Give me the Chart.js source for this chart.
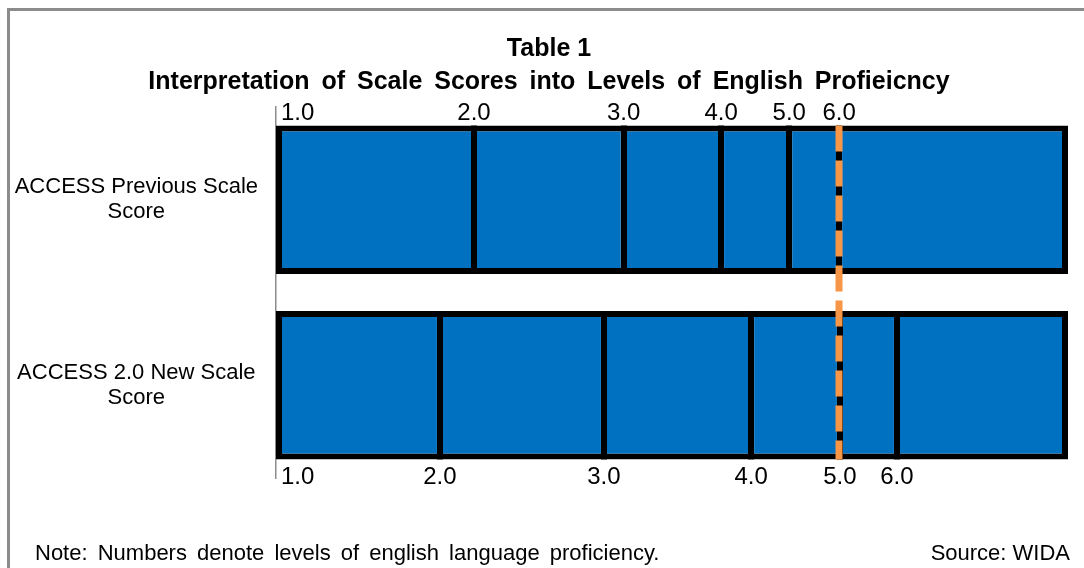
<!DOCTYPE html>
<html lang="en">
<head>
<meta charset="UTF-8">
<title>Table 1 - Interpretation of Scale Scores</title>
<script src="https://cdn.jsdelivr.net/npm/chart.js"></script>
<style>
  html, body { margin: 0; padding: 0; background: #fff; }
  #wrap { position: relative; width: 1084px; height: 568px; overflow: hidden; }
  #frame { position: absolute; left: 7px; top: 8px; right: -10px; bottom: -10px;
           border-left: 3px solid #8c8c8c; border-top: 3px solid #8c8c8c; pointer-events: none; }
  #title { position: absolute; left: 0; width: 1098px; top: 31px; text-align: center;
           font-family: 'Liberation Sans', Arial, sans-serif; font-weight: bold; font-size: 25px;
           line-height: 33px; color: #000; white-space: nowrap; }
  #title span { word-spacing: 5px; }
  .foot { position: absolute; top: 540px; font-family: 'Liberation Sans', Arial, sans-serif;
          font-size: 22px; color: #000; white-space: nowrap; }
</style>
</head>
<body>
<div id="wrap">
  <canvas id="scaleChart" width="1084" height="568"></canvas>
  <div id="frame"></div>
  <div id="title">Table 1<br><span>Interpretation of Scale Scores into Levels of English Profieicncy</span></div>
  <div class="foot" style="left:35px; word-spacing:4px">Note: Numbers denote levels of english language proficiency.</div>
  <div class="foot" style="right:14px">Source: WIDA</div>
</div>

<script>
  // two scales, each bar split into proficiency level bands
  const categories = [['ACCESS Previous Scale', 'Score'], ['ACCESS 2.0 New Scale', 'Score']];
  const previousSegments = [25.0, 18.9, 12.3, 8.6, 6.3, 28.9];
  const newSegments = [20.7, 20.7, 18.6, 11.2, 7.2, 21.6];
  const levelLabels = ['1.0', '2.0', '3.0', '4.0', '5.0', '6.0'];
  const cutoffValue = 71.1; // orange dashed line

  const FONT = "'Liberation Sans', Arial, sans-serif";
  const lastIdx = previousSegments.length - 1;

  const datasets = previousSegments.map((v, i) => ({
    label: 'Level ' + levelLabels[i],
    data: [v, newSegments[i]],
    backgroundColor: '#0070C0',
    borderColor: '#000',
    borderSkipped: false,
    borderWidth: { top: 6, bottom: 6, left: i === 0 ? 6 : 3, right: i === lastIdx ? 6 : 3 }
  }));

  // band dividers, dashed cutoff line, level numbers above / below
  const levelMarks = {
    id: 'levelMarks',
    afterDatasetsDraw(chart) {
      const { ctx, scales: { x } } = chart;
      const bars = chart.getDatasetMeta(0).data;
      const rows = [
        { segs: previousSegments, bar: bars[0], labelY: bars[0].y - bars[0].height / 2 - 6 },
        { segs: newSegments, bar: bars[1], labelY: bars[1].y + bars[1].height / 2 + 25 }
      ];

      ctx.save();
      // 6px black line between neighbouring bands
      ctx.fillStyle = '#000';
      rows.forEach(row => {
        const t = row.bar.y - row.bar.height / 2;
        let start = 0;
        row.segs.forEach((v, i) => {
          if (i > 0) ctx.fillRect(Math.round(x.getPixelForValue(start)) - 3, t, 6, row.bar.height);
          start += v;
        });
      });

      const barTop = bars[0].y - bars[0].height / 2;
      const barBottom = bars[1].y + bars[1].height / 2;
      const cx = Math.round(x.getPixelForValue(cutoffValue));
      ctx.strokeStyle = '#F79646';
      ctx.lineWidth = 7;
      ctx.setLineDash([26, 9]);
      ctx.beginPath();
      ctx.moveTo(cx, barTop);
      ctx.lineTo(cx, barBottom);
      ctx.stroke();
      ctx.setLineDash([]);

      ctx.fillStyle = '#000';
      ctx.font = '24px ' + FONT;
      ctx.textBaseline = 'alphabetic';
      rows.forEach(row => {
        let start = 0;
        row.segs.forEach((v, i) => {
          const px = x.getPixelForValue(start);
          if (i === 0) {
            ctx.textAlign = 'left';
            ctx.fillText(levelLabels[i], px + 5, row.labelY);
          } else {
            ctx.textAlign = 'center';
            ctx.fillText(levelLabels[i], px, row.labelY);
          }
          start += v;
        });
      });
      ctx.restore();
    }
  };

  const ctx = document.getElementById('scaleChart').getContext('2d');
  new Chart(ctx, {
    type: 'bar',
    data: { labels: categories, datasets: datasets },
    options: {
      indexAxis: 'y',
      responsive: false,
      animation: false,
      layout: { padding: { top: 107, right: 16, bottom: 90, left: 0 } },
      datasets: { bar: { barPercentage: 0.8, categoryPercentage: 1 } },
      scales: {
        x: { stacked: true, min: 0, max: 100, display: false },
        y: {
          stacked: true,
          grid: { display: false, drawTicks: false },
          border: { display: true, color: '#8c8c8c', width: 1.5 },
          ticks: {
            crossAlign: 'center',
            padding: 18,
            color: '#000',
            font: { family: FONT, size: 22, lineHeight: 1.15 }
          },
          afterFit: s => { s.width = 276; }
        }
      },
      plugins: {
        legend: { display: false },
        tooltip: { enabled: false }
      }
    },
    plugins: [levelMarks]
  });
</script>
</body>
</html>
